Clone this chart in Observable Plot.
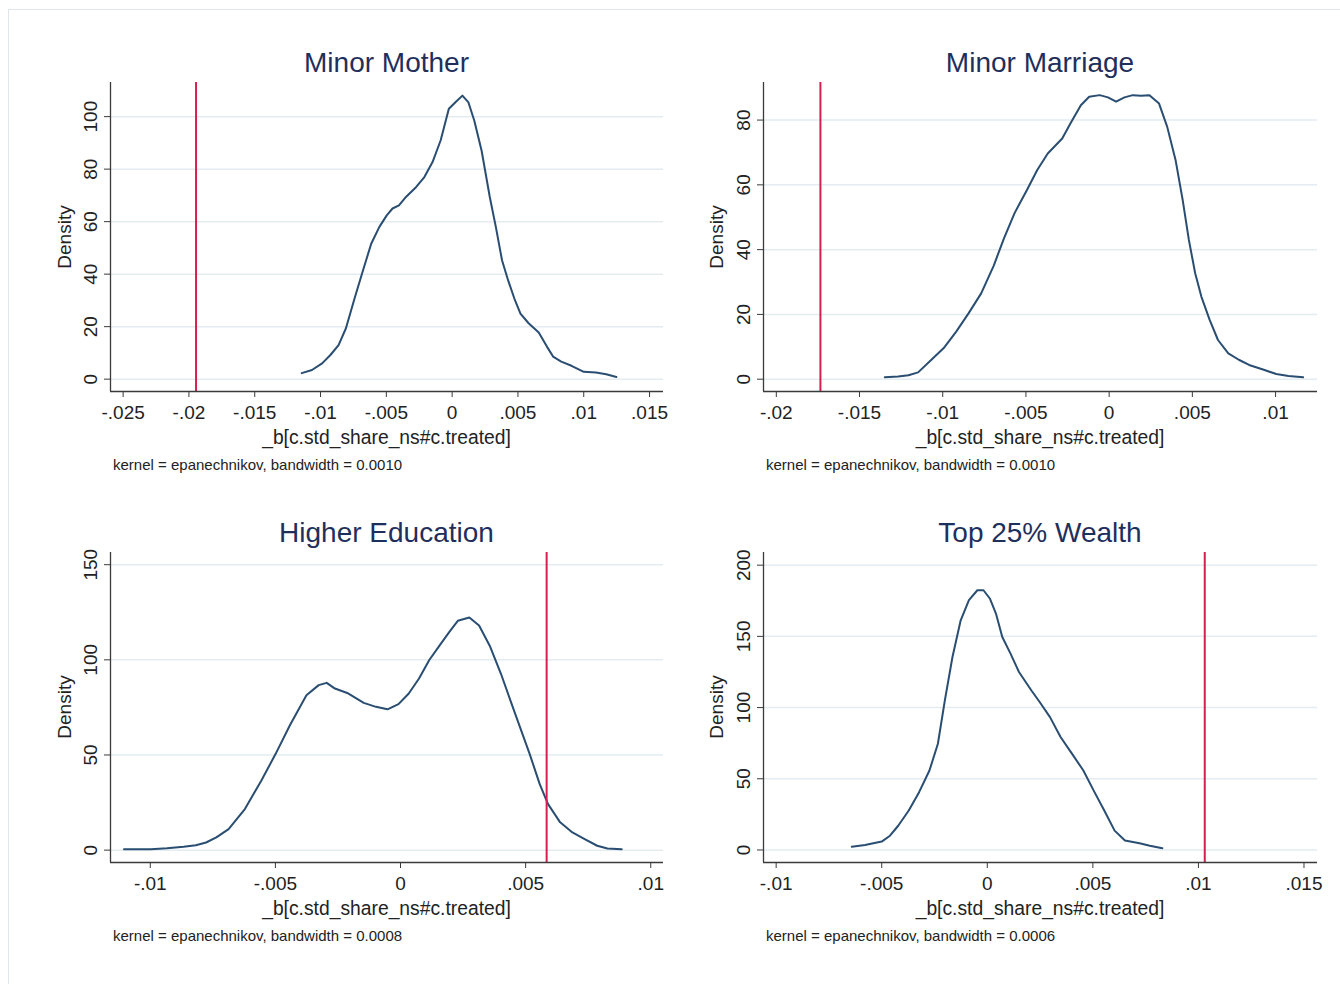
<!DOCTYPE html>
<html>
<head>
<meta charset="utf-8">
<script src="https://cdn.jsdelivr.net/npm/d3@7"></script>
<script src="https://cdn.jsdelivr.net/npm/@observablehq/plot@0.6"></script>
<style>
  html, body { margin: 0; padding: 0; background: #fff; }
  body { font-family: "Liberation Sans", Arial, Helvetica, sans-serif; }
  #page { position: relative; width: 1340px; height: 984px; overflow: hidden; background: #fff; }
  .frame { position: absolute; left: 8px; top: 9px; right: -2px; bottom: -2px;
           border-left: 1px solid #dfe7ea; border-top: 1px solid #dfe7ea; }
  .lbl { position: absolute; transform: translate(-50%, -50%); white-space: nowrap; line-height: 1; }
  .title { font-size: 28px; color: #1f2f5c; }
  .xtitle { font-size: 19.3px; color: #222; }
  .ytitle { font-size: 19px; color: #222; transform: translate(-50%, -50%) rotate(-90deg); }
  .note { position: absolute; white-space: nowrap; line-height: 1; font-size: 15px; color: #222; transform: translateY(-50%); }
  svg { position: absolute; }
</style>
</head>
<body>
<div id="page"><div class="frame"></div></div>
<script>
// ---------- Data ----------
const titles = ["Minor Mother", "Minor Marriage", "Higher Education", "Top 25% Wealth"];
const xAxisTitle = "_b[c.std_share_ns#c.treated]";
const yAxisTitle = "Density";
const kernelNotes = [
  "kernel = epanechnikov, bandwidth = 0.0010",
  "kernel = epanechnikov, bandwidth = 0.0010",
  "kernel = epanechnikov, bandwidth = 0.0008",
  "kernel = epanechnikov, bandwidth = 0.0006"
];

// Observed coefficients (red vertical lines)
const observed = [-0.01946, -0.01735, 0.00584, 0.0103];

// Tick values
const xTicksMother   = [-0.025, -0.02, -0.015, -0.01, -0.005, 0, 0.005, 0.01, 0.015];
const yTicksMother   = [0, 20, 40, 60, 80, 100];
const xTicksMarriage = [-0.02, -0.015, -0.01, -0.005, 0, 0.005, 0.01];
const yTicksMarriage = [0, 20, 40, 60, 80];
const xTicksEdu      = [-0.01, -0.005, 0, 0.005, 0.01];
const yTicksEdu      = [0, 50, 100, 150];
const xTicksWealth   = [-0.01, -0.005, 0, 0.005, 0.01, 0.015];
const yTicksWealth   = [0, 50, 100, 150, 200];

// Kernel density curves
const motherX = [-0.01143,-0.01065,-0.00988,-0.00925,-0.00863,-0.00807,-0.0074,-0.00677,-0.00615,-0.00553,
  -0.00497,-0.00453,-0.00404,-0.00351,-0.00273,-0.00211,-0.00149,-0.00087,-0.00025,0.00025,
  0.00078,0.00124,0.00168,0.00224,0.00286,0.00332,0.00379,0.00425,0.00472,0.00519,
  0.00581,0.00658,0.0072,0.00767,0.00829,0.00907,0.01,0.01093,0.01171,0.01248];
const motherY = [2.3,3.5,6.0,9.2,13.0,19.4,31.0,41.5,51.6,58.0,
  62.4,65.0,66.2,69.4,73.2,77.0,82.7,91.0,103.0,105.5,
  108.0,105.4,98.5,87.0,69.4,58.0,45.3,37.7,30.8,25.0,
  21.3,17.8,12.4,8.6,6.7,5.1,2.8,2.5,1.9,0.8];

const marriageX = [-0.01348,-0.01268,-0.01206,-0.01148,-0.01068,-0.00994,-0.00919,-0.00844,-0.00769,-0.00694,
  -0.00632,-0.00569,-0.00494,-0.00432,-0.00369,-0.00282,-0.00232,-0.0017,-0.0012,-0.00057,
  -0.00007,0.00042,0.00092,0.00142,0.00192,0.00242,0.003,0.00349,0.00399,0.00442,
  0.00479,0.00517,0.00554,0.00604,0.00654,0.00716,0.00779,0.00841,0.00929,0.01004,0.01078,0.01166];
const marriageY = [0.6,0.8,1.2,2.1,6.0,9.6,14.7,20.4,26.5,35.0,
  43.5,51.2,58.4,64.6,69.7,74.3,79.0,84.6,87.2,87.7,
  87.0,85.7,87.0,87.7,87.5,87.7,85.1,77.9,67.7,55.3,
  43.0,32.7,25.5,18.3,12.1,8.0,6.0,4.4,2.9,1.6,1.0,0.6];

const eduX = [-0.01105,-0.00998,-0.00933,-0.00867,-0.00818,-0.00777,-0.00736,-0.00687,-0.00622,-0.00556,
  -0.00499,-0.00442,-0.00376,-0.00327,-0.00295,-0.00262,-0.00213,-0.00147,-0.00098,-0.00052,
  -0.00008,0.00033,0.00074,0.00115,0.00155,0.00196,0.00229,0.00275,0.00314,0.00357,
  0.00401,0.00458,0.00516,0.00556,0.00589,0.00638,0.00687,0.00736,0.00786,0.00827,0.00884];
const eduY = [0.5,0.5,1.0,1.8,2.6,4.0,6.7,11.0,21.6,36.6,
  50.6,65.6,81.4,86.7,87.9,84.9,82.6,77.4,75.3,74.0,
  76.7,82.3,90.2,99.9,107.3,114.8,120.5,122.2,118.0,107.3,
  92.8,71.7,50.6,34.8,24.3,14.6,9.3,5.8,2.3,0.9,0.5];

const wealthX = [-0.00642,-0.00579,-0.005,-0.00461,-0.00422,-0.00372,-0.00323,-0.00274,-0.00234,-0.00201,
  -0.00165,-0.00126,-0.00087,-0.00047,-0.00018,0.00012,0.00041,0.00071,0.0011,0.0015,
  0.00209,0.00248,0.00297,0.00347,0.00396,0.00455,0.00504,0.00554,0.00603,0.00652,
  0.00721,0.0077,0.00829];
const wealthY = [2.3,3.5,5.9,10.0,17.0,27.7,40.6,55.8,74.6,105.0,
  135.5,161.3,175.4,182.4,182.4,176.6,166.0,149.6,137.9,125.0,
  112.0,103.9,93.3,79.3,68.7,55.8,41.7,27.7,13.6,6.6,
  4.7,3.0,1.2];

// ---------- Styling / layout ----------
const NAVY = "#2a4d72";
const RED = "#d81e4e";
const AXIS = "#3a3a3a";
const GRID = "#e3ecf0";
const FONT = "'Liberation Sans', Arial, Helvetica, sans-serif";

const fmtX = v => v === 0 ? "0" : String(v).replace(/^(-?)0\./, "$1.");

const panels = [
  { title: titles[0], note: kernelNotes[0], xs: motherX, ys: motherY, red: observed[0],
    xTicks: xTicksMother, yTicks: yTicksMother,
    xDomain: [-0.02596, 0.01606], yDomain: [-4.7, 113],
    box: [110, 663, 82, 391], svg: [20, 40, 660, 420], ytx: 64 },
  { title: titles[1], note: kernelNotes[1], xs: marriageX, ys: marriageY, red: observed[1],
    xTicks: xTicksMarriage, yTicks: yTicksMarriage,
    xDomain: [-0.02077, 0.01252], yDomain: [-3.8, 91.6],
    box: [763, 1317, 82, 391], svg: [672, 40, 660, 420], ytx: 716 },
  { title: titles[2], note: kernelNotes[2], xs: eduX, ys: eduY, red: observed[2],
    xTicks: xTicksEdu, yTicks: yTicksEdu,
    xDomain: [-0.01159, 0.01051], yDomain: [-6.5, 156.4],
    box: [110, 663, 552, 862], svg: [20, 510, 660, 420], ytx: 64 },
  { title: titles[3], note: kernelNotes[3], xs: wealthX, ys: wealthY, red: observed[3],
    xTicks: xTicksWealth, yTicks: yTicksWealth,
    xDomain: [-0.0106, 0.01564], yDomain: [-8.8, 208.9],
    box: [763, 1317, 552, 862], svg: [672, 510, 660, 420], ytx: 716 }
];

const page = document.getElementById("page");

function addLabel(cls, text, x, y) {
  const d = document.createElement("div");
  d.className = cls;
  d.textContent = text;
  d.style.left = x + "px";
  d.style.top = y + "px";
  page.appendChild(d);
}

for (const p of panels) {
  const [x0, x1, y0, y1] = p.box;
  const [sl, st, sw, sh] = p.svg;
  const data = p.xs.map((x, i) => ({x, y: p.ys[i]}));
  const chart = Plot.plot({
    width: sw, height: sh,
    marginLeft: x0 - sl, marginRight: sl + sw - x1,
    marginTop: y0 - st, marginBottom: st + sh - y1,
    style: { fontFamily: FONT, fontSize: "19px", color: "#222", background: "transparent" },
    x: { domain: p.xDomain },
    y: { domain: p.yDomain },
    marks: [
      Plot.gridY(p.yTicks, { stroke: GRID, strokeOpacity: 1, strokeWidth: 1.5 }),
      Plot.line(data, { x: "x", y: "y", stroke: NAVY, strokeWidth: 2 }),
      Plot.ruleX([p.red], { stroke: RED, strokeWidth: 2 }),
      Plot.ruleX([p.xDomain[0]], { stroke: AXIS, strokeWidth: 1.3 }),
      Plot.ruleY([p.yDomain[0]], { stroke: AXIS, strokeWidth: 1.3 }),
      Plot.axisX(p.xTicks, { tickSize: 6, tickPadding: 8, tickFormat: fmtX, fontSize: 19,
                             label: null, stroke: AXIS, fill: "#222" }),
      Plot.axisY(p.yTicks, { tickSize: 6, tickPadding: 8, tickRotate: -90, fontSize: 19,
                             label: null, stroke: AXIS, fill: "#222" })
    ]
  });
  chart.style.left = sl + "px";
  chart.style.top = st + "px";
  page.appendChild(chart);

  const cx = (x0 + x1) / 2;
  addLabel("lbl title", p.title, cx, y0 - 19);
  addLabel("lbl xtitle", xAxisTitle, cx, y1 + 47);
  addLabel("lbl ytitle", yAxisTitle, p.ytx, (y0 + y1) / 2);
  const n = document.createElement("div");
  n.className = "note";
  n.textContent = p.note;
  n.style.left = (x0 + 3) + "px";
  n.style.top = (y1 + 73) + "px";
  page.appendChild(n);
}
</script>
</body>
</html>
